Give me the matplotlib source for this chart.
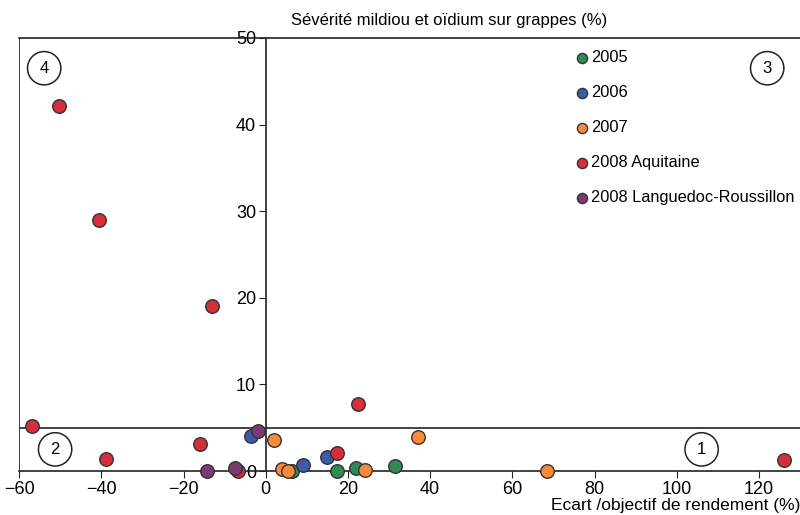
import matplotlib
matplotlib.use('Agg')
import matplotlib.pyplot as plt

# séries (écart / objectif %, sévérité %)
x_2005 = [6.3, 17.3, 22.0, 31.5]
y_2005 = [0.0, 0.0, 0.3, 0.6]

x_2006 = [-3.7, 9.0, 14.9]
y_2006 = [4.0, 0.7, 1.6]

x_2007 = [2.0, 3.9, 5.4, 24.1, 37.1, 68.5]
y_2007 = [3.6, 0.2, 0.0, 0.1, 3.9, 0.0]

x_2008_aq = [-50.2, -40.5, -13.2, 22.4, -56.8, -38.8, -15.9, 17.3, -6.8, 126.0]
y_2008_aq = [42.1, 29.0, 19.1, 7.7, 5.2, 1.4, 3.1, 2.1, 0.0, 1.3]

x_2008_lr = [-1.9, -14.4, -7.5]
y_2008_lr = [4.6, 0.0, 0.4]

series = [
    ('2005', x_2005, y_2005, '#2f8a55'),
    ('2006', x_2006, y_2006, '#3d5ba8'),
    ('2007', x_2007, y_2007, '#f98a3a'),
    ('2008 Aquitaine', x_2008_aq, y_2008_aq, '#d62f3a'),
    ('2008 Languedoc-Roussillon', x_2008_lr, y_2008_lr, '#7b3a74'),
]

x_ticks = [-60, -40, -20, 0, 20, 40, 60, 80, 100, 120]
y_ticks = [0, 10, 20, 30, 40, 50]
seuil = 5

plt.rcParams['font.family'] = ['Liberation Sans', 'DejaVu Sans']

fig = plt.figure(figsize=(8, 5.15), dpi=100)
ax = fig.add_axes([0.024, 0.0854, 0.976, 0.841])

for nom, xs, ys, c in series:
    ax.scatter(xs, ys, s=95, color=c, edgecolors='#333333', linewidths=1.0,
               zorder=3, clip_on=False, label=nom)

ax.set_xlim(-60, 130)
ax.set_ylim(0, 50)

# axes croisés
ax.spines['left'].set_position(('data', 0))
ax.spines['right'].set_visible(False)
ax.axvline(-60, color='#222222', lw=1.2)
ax.axhline(seuil, color='#222222', lw=1.2)
for s in ['left', 'top', 'bottom']:
    ax.spines[s].set_color('#222222')
    ax.spines[s].set_linewidth(1.2)

ax.set_xticks(x_ticks)
ax.set_yticks(y_ticks)
ax.tick_params(axis='both', labelsize=13, length=5, color='#222222', pad=2)

ax.set_title('Sévérité mildiou et oïdium sur grappes (%)', fontsize=12, x=0.55, y=1.01)
ax.text(1.0, -0.062, 'Ecart /objectif de rendement (%)', transform=ax.transAxes,
        ha='right', va='top', fontsize=12.5)

# numéros des quadrants
for txt, px, py in [('4', 0.032, 0.93), ('3', 0.958, 0.93), ('2', 0.046, 0.05), ('1', 0.874, 0.05)]:
    ax.text(px, py, txt, transform=ax.transAxes, ha='center', va='center', fontsize=12,
            bbox=dict(boxstyle='circle,pad=0.55', fc='white', ec='#222222', lw=1.1))

leg = ax.legend(loc='upper left', bbox_to_anchor=(0.7, 0.99), frameon=False,
                fontsize=11.8, handlelength=1.0, handletextpad=0.05, labelspacing=1.22,
                markerscale=0.75, borderaxespad=0.3, borderpad=0.2)

fig.savefig('out.png', dpi=100)
